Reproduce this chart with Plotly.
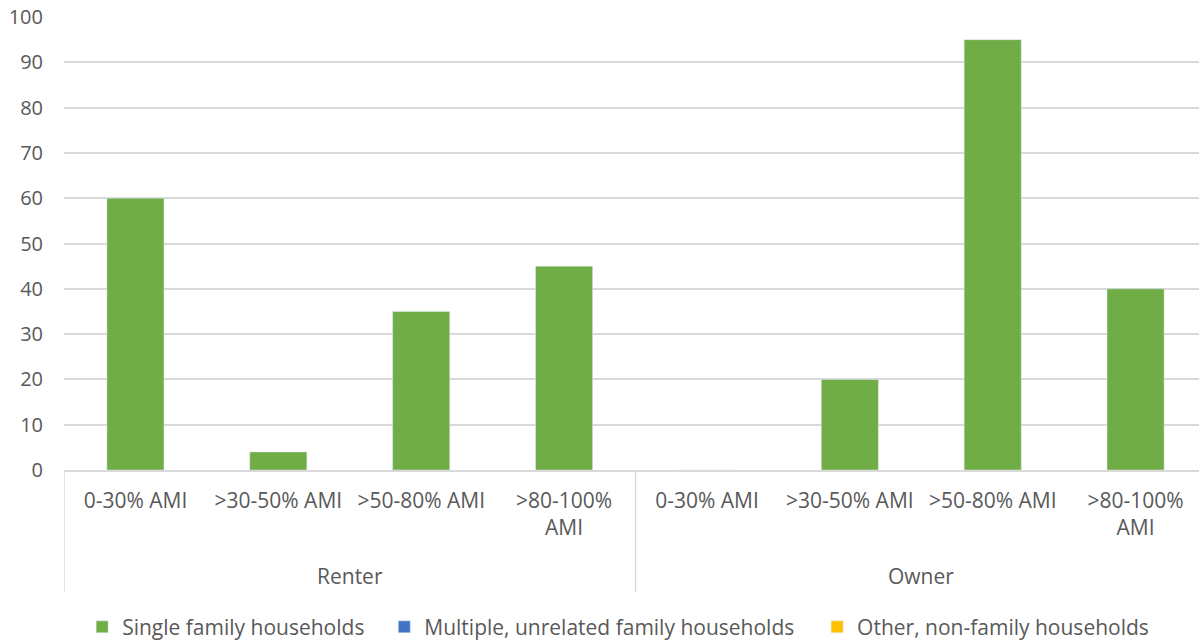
import plotly.graph_objects as go

# data
tenure = ["Renter", "Owner"]
income_labels = ["0-30% AMI", ">30-50% AMI", ">50-80% AMI", ">80-100%<br>AMI"]
single_family = [60, 4, 35, 45, 0, 20, 95, 40]
multiple_unrelated = [None] * 8
other_nonfamily = [None] * 8
series_names = ["Single family households", "Multiple, unrelated family households",
                "Other, non-family households"]
series_colors = ["#70AD47", "#4472C4", "#FFC000"]

x_pos = list(range(len(tenure) * len(income_labels)))
tick_text = income_labels * len(tenure)

FONT = "Open Sans"
GREY = "#595959"
GRID = "#D9D9D9"
FS = 21

fig = go.Figure()
legend_ids = ["legend", "legend2", "legend3"]
legend_x = [0.0685, 0.3205, 0.6815]
for name, vals, col, lid in zip(series_names,
                                [single_family, multiple_unrelated, other_nonfamily],
                                series_colors, legend_ids):
    fig.add_trace(go.Bar(x=x_pos, y=vals, name=name, marker_color=col,
                         width=0.4, legend=lid))

n = len(income_labels)
# group labels and dividers under the axis
for i, t in enumerate(tenure):
    fig.add_annotation(x=i * n + (n - 1) / 2, y=-0.235, xref="x", yref="paper",
                       text=t, showarrow=False, yanchor="middle",
                       font=dict(family=FONT, size=FS, color=GREY))
for i in range(len(tenure) + 1):
    fig.add_shape(type="line", xref="x", yref="paper",
                  x0=i * n - 0.5, x1=i * n - 0.5, y0=0, y1=-0.27,
                  line=dict(color=GRID, width=1.5))

legend_style = dict(orientation="h", xref="container", xanchor="left",
                    y=-0.347, yanchor="middle", bgcolor="rgba(0,0,0,0)",
                    font=dict(family=FONT, size=FS, color=GREY), itemclick=False)

fig.update_layout(
    width=1199, height=641,
    margin=dict(l=64, r=0, t=17, b=171, autoexpand=False),
    plot_bgcolor="white", paper_bgcolor="white",
    barmode="overlay",
    font=dict(family=FONT, size=FS, color=GREY),
    showlegend=True,
    legend=dict(x=legend_x[0], **legend_style),
    legend2=dict(x=legend_x[1], **legend_style),
    legend3=dict(x=legend_x[2], **legend_style),
    xaxis=dict(range=[-0.5, 7.444], tickvals=x_pos, ticktext=tick_text, automargin=False,
               showgrid=False, zeroline=False, showline=True, linecolor=GRID, linewidth=1.5,
               ticks="", ticklabelstandoff=11, tickfont=dict(family=FONT, size=FS, color=GREY)),
    yaxis=dict(range=[0, 100], dtick=10, showgrid=True, gridcolor=GRID, gridwidth=1.5,
               automargin=False, zeroline=False, showline=False, ticks="", ticklabelstandoff=20,
               tickfont=dict(family=FONT, size=20, color=GREY)),
)

fig.write_html("out.html", config={"displayModeBar": False},
               post_script="document.body.style.margin='0';")
